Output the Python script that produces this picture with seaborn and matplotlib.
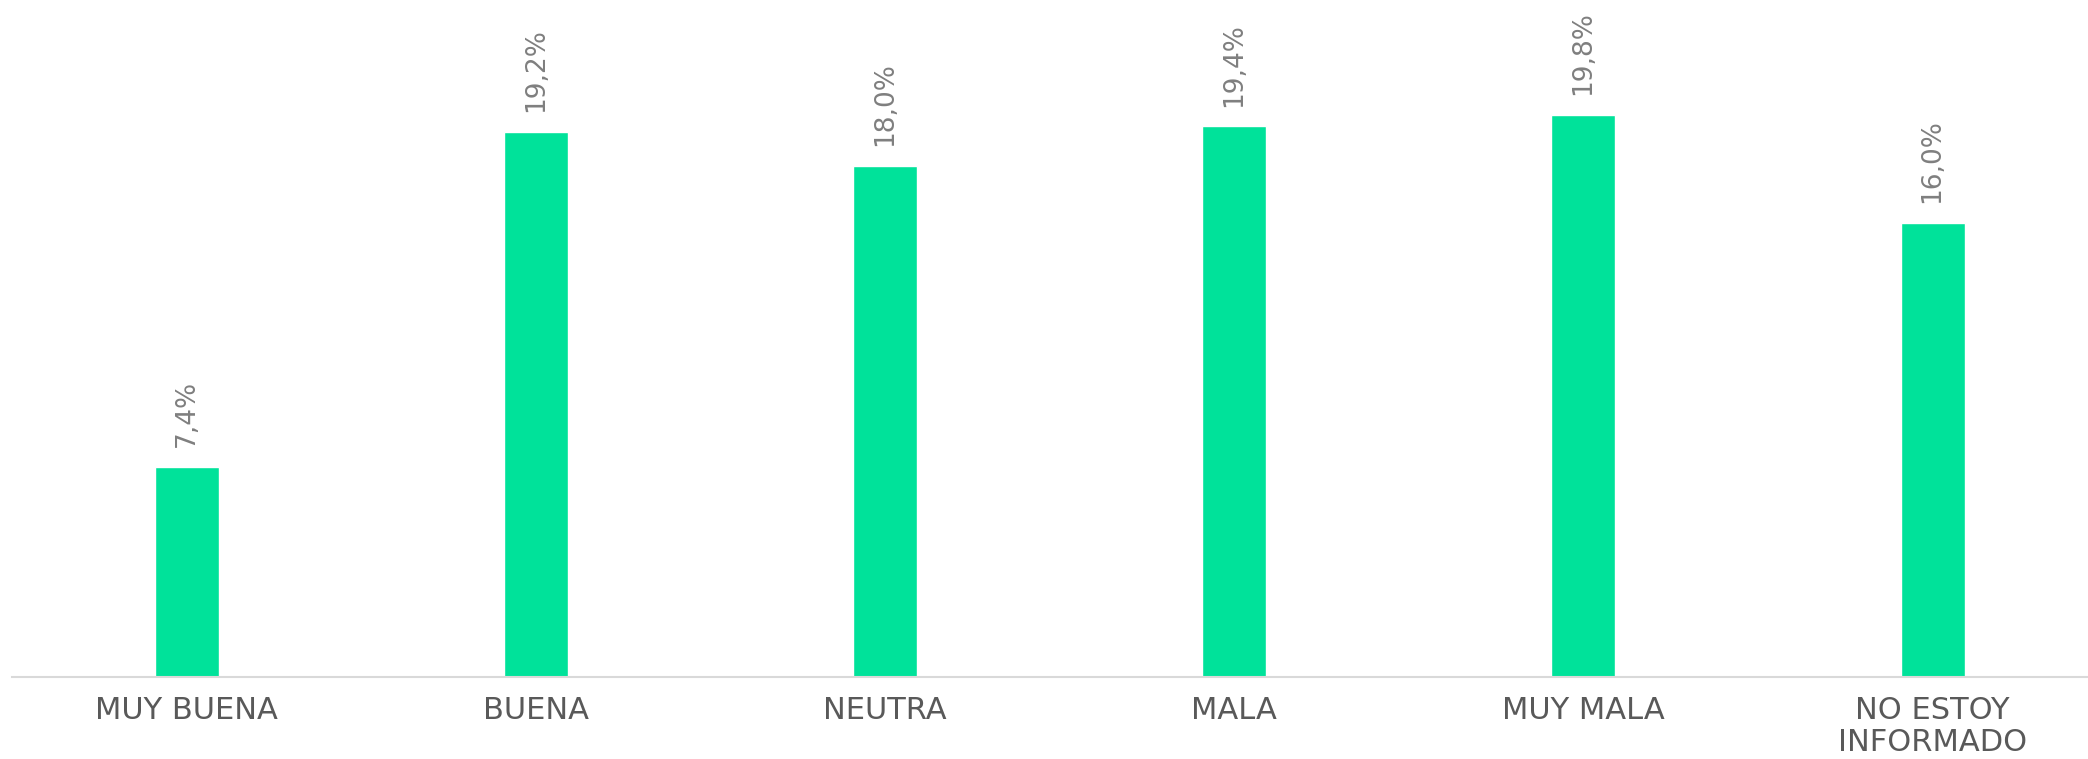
import matplotlib
matplotlib.use("Agg")
import matplotlib.pyplot as plt
import seaborn as sns
import pandas as pd

# data
categories = ["MUY BUENA", "BUENA", "NEUTRA", "MALA", "MUY MALA", "NO ESTOY\nINFORMADO"]
values = [7.4, 19.2, 18.0, 19.4, 19.8, 16.0]
value_labels = ["7,4%", "19,2%", "18,0%", "19,4%", "19,8%", "16,0%"]

df = pd.DataFrame({"categoria": categories, "porcentaje": values})

sns.set_style("white")
plt.rcParams["font.family"] = ["DejaVu Sans"]

fig = plt.figure(figsize=(20.88, 7.59), dpi=100)
ax = fig.add_axes([12 / 2088, 82 / 759, 2076 / 2088, 677 / 759])

sns.barplot(data=df, x="categoria", y="porcentaje", color="#00E29A",
            saturation=1, width=0.183, ax=ax)

ax.bar_label(ax.containers[0], labels=value_labels, rotation=90,
             padding=14, fontsize=19, color="#7f7f7f")

# the axis line runs off the right edge of the picture
ax.set_xlim(-0.5, 5.445)
ax.set_ylim(0, 23.84)
ax.set_xlabel("")
ax.set_ylabel("")
ax.set_yticks([])
ax.tick_params(axis="x", length=0, pad=14, labelsize=22, labelcolor="#595959")
for lbl in ax.get_xticklabels():
    lbl.set_linespacing(1.12)

for side in ["top", "right", "left"]:
    ax.spines[side].set_visible(False)
ax.spines["bottom"].set_color("#d9d9d9")
ax.spines["bottom"].set_linewidth(1.5)

fig.savefig("out.png", dpi=100)
